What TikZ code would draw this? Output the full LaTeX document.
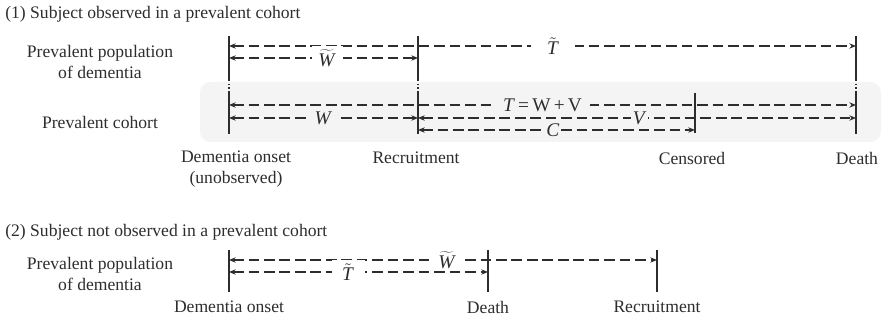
\documentclass[tikz,border=0pt]{standalone}
\usepackage{fontspec}
\setmainfont{Liberation Serif}
\usetikzlibrary{arrows.meta}
\definecolor{ink}{RGB}{45,45,45}
\definecolor{bandgray}{RGB}{244,244,244}
\newcommand{\tl}[1]{$\tilde{\mbox{\textit{#1}}}$}
\newcommand{\wtl}[1]{$\widetilde{\mbox{\textit{#1}}}$}
\tikzset{
  tick/.style={draw=ink, line width=1.2pt},
  tickdot/.style={draw=ink, line width=0.8pt, dotted},
  span/.style={draw=ink, line width=1.1pt, dash pattern=on 8pt off 3.6pt,
    {Stealth[length=5pt,width=4pt]}-{Stealth[length=5pt,width=4pt]}},
  lab/.style={fill=white, inner sep=2.5pt, text=ink, font=\fontsize{14.5}{16}\selectfont},
  slab/.style={lab, fill=bandgray},
  txt/.style={text=ink, font=\fontsize{13.2}{15.5}\selectfont, align=center, inner sep=0pt},
}
\begin{document}
\begin{tikzpicture}[x=0.75pt, y=-0.75pt]
\useasboundingbox (0,0) rectangle (883,320);

% ---------- (1) subject observed in a prevalent cohort ----------
\node[txt, anchor=west] (title1) at (5,14) {(1) Subject observed in a prevalent cohort};
\node[txt] (pop1) at (100,62) {Prevalent population\\of dementia};
\node[txt] (coh1) at (100,122) {Prevalent cohort};

% light band behind the cohort rows
\fill[bandgray, rounded corners=8pt] (200,82) rectangle (881,142);

% time points
\coordinate (on1t) at (229,36);  \coordinate (on1m) at (229,80);
\coordinate (on1n) at (229,92);  \coordinate (on1b) at (229,134);
\coordinate (re1t) at (418,36);  \coordinate (re1m) at (418,80);
\coordinate (re1n) at (418,92);  \coordinate (re1b) at (418,134);
\coordinate (ce1n) at (695,93);  \coordinate (ce1b) at (695,133);
\coordinate (de1t) at (856,36);  \coordinate (de1m) at (856,80);
\coordinate (de1n) at (856,92);  \coordinate (de1b) at (856,134);

\draw[tick] (on1t) -- (on1m); \draw[tickdot] (on1m) -- (on1n); \draw[tick] (on1n) -- (on1b);
\draw[tick] (re1t) -- (re1m); \draw[tickdot] (re1m) -- (re1n); \draw[tick] (re1n) -- (re1b);
\draw[tick] (ce1n) -- (ce1b);
\draw[tick] (de1t) -- (de1m); \draw[tickdot] (de1m) -- (de1n); \draw[tick] (de1n) -- (de1b);

% row heights
\coordinate (ra) at (0,46);
\coordinate (rb) at (0,58);
\coordinate (rc) at (0,105);
\coordinate (rd) at (0,118);
\coordinate (rf) at (0,130);

\draw[span] (on1t |- ra) -- node[lab, pos=0.517, inner xsep=12pt] (tT) {\tl{T}} (de1t |- ra);
\draw[span] (on1t |- rb) -- node[lab, pos=0.52, inner xsep=5pt] (tW) {\wtl{W}} (re1t |- rb);
\draw[span] (on1t |- rc) -- node[slab, pos=0.5, inner xsep=6pt] (TWV) {\textit{T}\,=\,W\,+\,V} (de1t |- rc);
\draw[span] (on1t |- rd) -- node[slab, pos=0.5, inner xsep=4pt] (W) {\textit{W}} (re1t |- rd);
\draw[span] (re1t |- rd) -- node[slab, pos=0.506, inner sep=1pt] (V) {\textit{V}} (de1t |- rd);
\draw[span] (re1t |- rf) -- node[slab, pos=0.487, inner sep=1pt] (C) {\textit{C}} (ce1n |- rf);

\node[txt] (onset1) at (236,169) {Dementia onset\\(unobserved)};
\node[txt] (recr1) at (416,158) {Recruitment};
\node[txt] (cens1) at (692,158) {Censored};
\node[txt] (death1) at (857,158) {Death};

% ---------- (2) subject not observed in a prevalent cohort ----------
\node[txt, anchor=west] (title2) at (5,232) {(2) Subject not observed in a prevalent cohort};
\node[txt] (pop2) at (100,274) {Prevalent population\\of dementia};

\coordinate (on2t) at (229,250); \coordinate (on2b) at (229,292);
\coordinate (de2t) at (488,250); \coordinate (de2b) at (488,292);
\coordinate (re2t) at (657,250); \coordinate (re2b) at (657,292);

\draw[tick] (on2t) -- (on2b);
\draw[tick] (de2t) -- (de2b);
\draw[tick] (re2t) -- (re2b);

\coordinate (rg) at (0,260);
\coordinate (rh) at (0,272);

\draw[span] (on2t |- rg) -- node[lab, pos=0.51, inner xsep=5pt] (tW2) {\wtl{W}} (re2t |- rg);
\draw[span] (on2t |- rh) -- node[lab, pos=0.46, inner xsep=8pt] (tT2) {\tl{T}} (de2t |- rh);

\node[txt] (onset2) at (229,307) {Dementia onset};
\node[txt] (death2) at (488,307) {Death};
\node[txt] (recr2) at (657,307) {Recruitment};
\end{tikzpicture}
\end{document}
